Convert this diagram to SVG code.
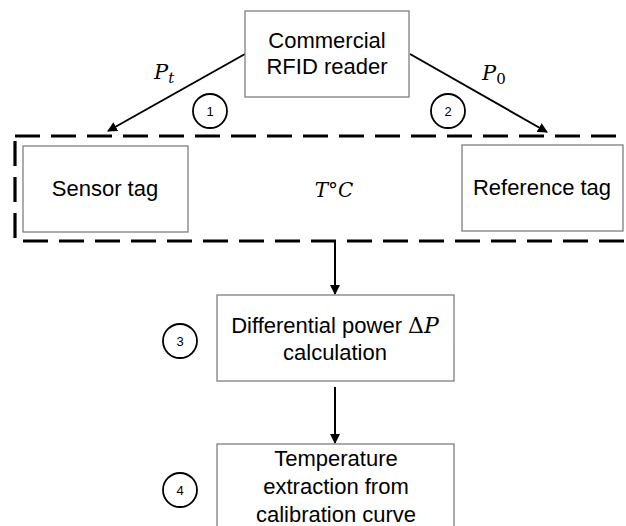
<svg xmlns="http://www.w3.org/2000/svg" width="626" height="526" viewBox="0 0 626 526">
<style>
.box{fill:#fff;stroke:#7f7f7f;stroke-width:1.3}
.lbl{font-family:"Liberation Sans",Arial,sans-serif;font-size:22px;fill:#000;text-anchor:middle}
.math{font-family:"DejaVu Serif","Liberation Serif",serif;font-style:italic;fill:#000}
.up{font-family:"DejaVu Serif","Liberation Serif",serif;font-style:normal;fill:#000}
.circ{fill:none;stroke:#000;stroke-width:1.8}
.num{font-family:"Liberation Sans",Arial,sans-serif;font-size:13px;fill:#000;text-anchor:middle}
.con{stroke:#000;stroke-width:2;fill:none}
</style>
<defs>
<marker id="ah" viewBox="0 0 10 10" refX="9" refY="5" markerWidth="5" markerHeight="5" orient="auto" markerUnits="strokeWidth">
<path d="M0,0 L10,5 L0,10 z" fill="#000"/>
</marker>
</defs>
<rect width="626" height="526" fill="#fff"/>
<g id="group-box">
<rect x="15" y="136" width="630" height="105" fill="none" stroke="#000" stroke-width="3.2" stroke-dasharray="25 11"/>
</g>
<g id="connectors">
<line class="con" x1="245" y1="54" x2="108" y2="131" marker-end="url(#ah)"/>
<line class="con" x1="410" y1="54" x2="547" y2="132" marker-end="url(#ah)"/>
<line class="con" x1="335" y1="241" x2="335" y2="294" marker-end="url(#ah)"/>
<line class="con" x1="335" y1="387" x2="335" y2="443" marker-end="url(#ah)"/>
</g>
<g id="reader">
<rect class="box" x="245" y="11" width="164" height="86"/>
<text class="lbl" x="327" y="48">Commercial</text>
<text class="lbl" x="327" y="74">RFID reader</text>
</g>
<g id="sensor">
<rect class="box" x="23" y="146" width="165" height="86"/>
<text class="lbl" x="105" y="196">Sensor tag</text>
</g>
<g id="reference">
<rect class="box" x="462" y="145" width="161" height="86"/>
<text class="lbl" x="542" y="195">Reference tag</text>
</g>
<g id="temp">
<text class="math" x="334" y="197" font-size="20" text-anchor="middle">T°C</text>
</g>
<g id="pt-label">
<text class="math" x="154" y="79" font-size="21">P<tspan font-size="15" dy="4">t</tspan></text>
</g>
<g id="p0-label">
<text class="math" x="482" y="80" font-size="21">P<tspan font-size="15" font-style="normal" dy="4">0</tspan></text>
</g>
<g id="step1">
<circle class="circ" cx="210" cy="111" r="17"/>
<text class="num" x="210" y="116">1</text>
</g>
<g id="step2">
<circle class="circ" cx="448" cy="111" r="17"/>
<text class="num" x="448" y="116">2</text>
</g>
<g id="diff">
<rect class="box" x="217" y="295" width="237" height="86"/>
<text class="lbl" x="335" y="333">Differential power <tspan class="up">Δ</tspan><tspan class="math">P</tspan></text>
<text class="lbl" x="335" y="360">calculation</text>
</g>
<g id="step3">
<circle class="circ" cx="180" cy="341" r="17"/>
<text class="num" x="180" y="346">3</text>
</g>
<g id="extract">
<rect class="box" x="217" y="444" width="237" height="100"/>
<text class="lbl" x="336" y="466">Temperature</text>
<text class="lbl" x="336" y="494">extraction from</text>
<text class="lbl" x="336" y="522">calibration curve</text>
</g>
<g id="step4">
<circle class="circ" cx="180" cy="490" r="17"/>
<text class="num" x="180" y="495">4</text>
</g>
</svg>
